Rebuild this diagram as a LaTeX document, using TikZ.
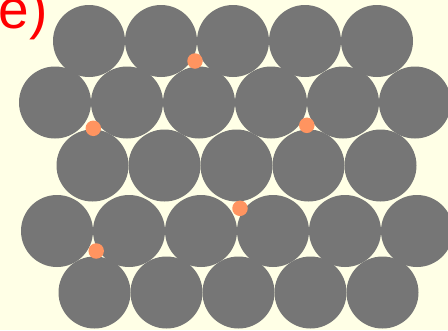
\documentclass[tikz,border=0pt]{standalone}
\usepackage{fontspec}
\setmainfont{Liberation Sans}
\definecolor{BgClr}{RGB}{255,255,230}
\definecolor{AtomClr}{RGB}{118,118,118}
\definecolor{DotClr}{RGB}{255,148,96}
\definecolor{LabelClr}{RGB}{255,0,0}

\begin{document}
\begin{tikzpicture}[x=1pt,y=-1pt,
  atom/.style={circle,fill=AtomClr,inner sep=0pt,minimum size=72pt},
  dot/.style={circle,fill=DotClr,inner sep=0pt,minimum size=15.5pt}]
\fill[BgClr] (0,0) rectangle (448,330);
\useasboundingbox (0,0) rectangle (448,330);

% label
\node[text=LabelClr,font=\fontsize{55}{55}\selectfont,anchor=base west,inner sep=0pt] (lbl) at (-1.5,28.5) {e)};

% five rows of atoms
\foreach \r/\y/\xs/\n in {1/41/89/5,2/102.5/55/6,3/165.5/92.5/5,4/231/57/6,5/292.5/94.5/5}
  \foreach \c in {1,...,\n}
    \node[atom] (a\r\c) at ({\xs+72*(\c-1)},\y) {};

% small atoms in the gaps
\node[dot] (d1) at (195,61) {};
\node[dot] (d2) at (93.3,128.3) {};
\node[dot] (d3) at (306.8,125.3) {};
\node[dot] (d4) at (240,208.3) {};
\node[dot] (d5) at (96.2,251) {};

\end{tikzpicture}
\end{document}
